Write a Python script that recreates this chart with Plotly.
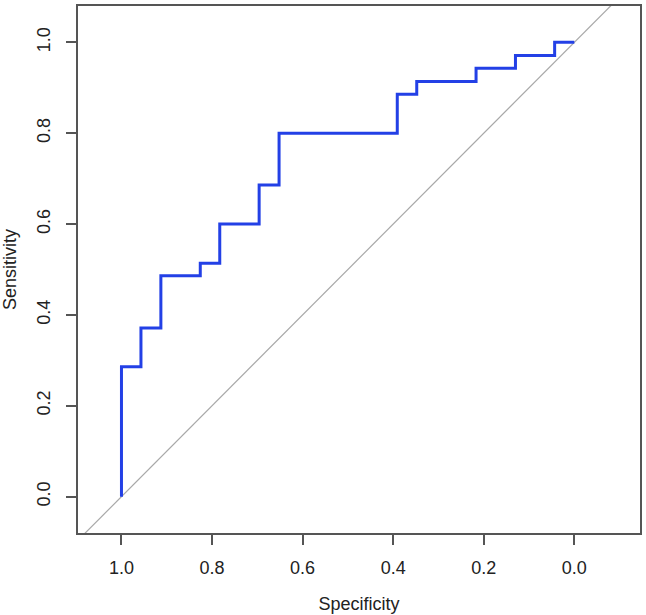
import plotly.graph_objects as go

# ROC curve points (specificity, sensitivity)
specificity = [1.0, 1.0, 0.957, 0.957, 0.913, 0.913, 0.826, 0.826, 0.783, 0.783,
               0.696, 0.696, 0.652, 0.652, 0.391, 0.391, 0.348, 0.348, 0.217, 0.217,
               0.130, 0.130, 0.0435, 0.0435, 0.0]
sensitivity = [0.0, 0.286, 0.286, 0.371, 0.371, 0.486, 0.486, 0.514, 0.514, 0.600,
               0.600, 0.686, 0.686, 0.800, 0.800, 0.886, 0.886, 0.914, 0.914, 0.943,
               0.943, 0.971, 0.971, 1.0, 1.0]

# reference (chance) diagonal: sensitivity = 1 - specificity, across the panel
diag_spec = [1.2, -0.2]
diag_sens = [-0.2, 1.2]

tick_vals = [0.0, 0.2, 0.4, 0.6, 0.8, 1.0]
tick_text = ["0.0", "0.2", "0.4", "0.6", "0.8", "1.0"]

FONT = "Liberation Sans, Arial"

fig = go.Figure()
fig.add_trace(go.Scatter(x=diag_spec, y=diag_sens, mode="lines",
                         line=dict(color="#a8a8a8", width=1.2), hoverinfo="skip",
                         showlegend=False))
fig.add_trace(go.Scatter(x=specificity, y=sensitivity, mode="lines",
                         line=dict(color="#2340e6", width=3), showlegend=False))

axis_common = dict(showgrid=False, zeroline=False, showline=True, mirror=True,
                   linecolor="#555555", linewidth=1.5, ticks="outside", ticklen=10,
                   tickwidth=1.5, tickcolor="#555555",
                   tickfont=dict(family=FONT, size=18, color="#222222"),
                   tickvals=tick_vals, ticktext=tick_text)

fig.update_layout(
    width=646, height=615,
    margin=dict(l=78, r=4, t=4, b=82),
    plot_bgcolor="white", paper_bgcolor="white",
    xaxis=dict(range=[1.096, -0.145], ticklabelstandoff=8,
               title=dict(text="Specificity", standoff=20,
                          font=dict(family=FONT, size=18, color="#222222")),
               **axis_common),
    yaxis=dict(range=[-0.08, 1.08], tickangle=-90, ticklabelstandoff=9,
               title=dict(text="Sensitivity", standoff=13,
                          font=dict(family=FONT, size=18, color="#222222")),
               **axis_common),
)

fig.write_html("out.html", config={"displayModeBar": False},
               post_script="document.body.style.margin='0';document.body.style.padding='0';")
